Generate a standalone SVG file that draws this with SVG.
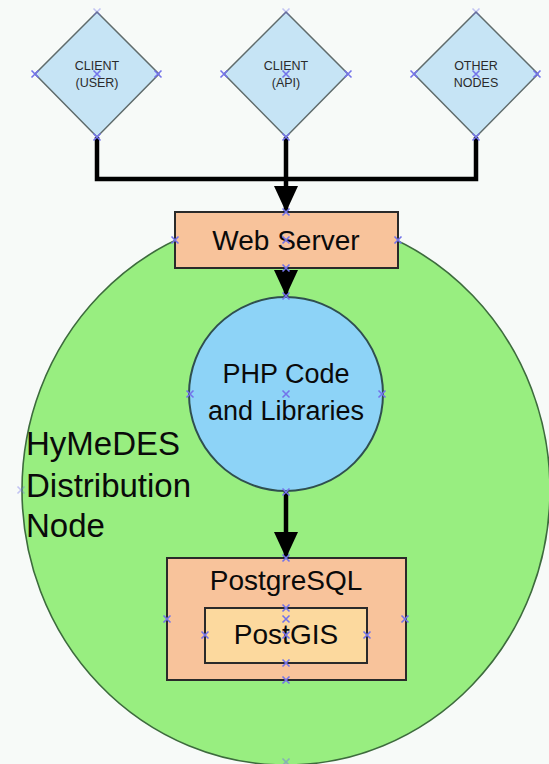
<svg xmlns="http://www.w3.org/2000/svg" xmlns:xlink="http://www.w3.org/1999/xlink" width="549" height="764" viewBox="0 0 549 764">
<style>
.dia{fill:#c6e4f5;stroke:#5f6b6b;stroke-width:1.5}
.dtxt{font-family:"Liberation Sans",Arial,sans-serif;font-size:12.5px;fill:#2a2a2a;text-anchor:middle}
.box{fill:#f8c39b;stroke:#2a2a2a;stroke-width:2}
.txt{font-family:"Liberation Sans",Arial,sans-serif;fill:#0a0a0a;text-anchor:middle}
.conn{fill:none;stroke:#000;stroke-width:4.5}
.pt{stroke:#7373ea;stroke-width:1.6;fill:none}
</style>
<defs>
<marker id="ah" markerUnits="userSpaceOnUse" markerWidth="27" markerHeight="24" refX="26" refY="12" orient="auto">
<path d="M0,0 L26,12 L0,24 z" fill="#000"/>
</marker>
<path id="x" class="pt" d="M-3.5,-3.5 L3.5,3.5 M-3.5,3.5 L3.5,-3.5"/>
</defs>
<rect width="549" height="764" fill="#f7faf8"/>
<g id="distribution-node">
<ellipse cx="286" cy="490" rx="264" ry="275" fill="#98ee80" stroke="#3d6b3d" stroke-width="1.6"/>
<text class="txt" style="text-anchor:start;font-size:33px"><tspan x="26" y="455">HyMeDES</tspan><tspan x="26" y="497">Distribution</tspan><tspan x="26" y="537">Node</tspan></text>
</g>
<g id="client-user">
<polygon class="dia" points="97,12 159,74 97,137 35,74"/>
<text class="dtxt"><tspan x="97" y="70">CLIENT</tspan><tspan x="97" y="87">(USER)</tspan></text>
</g>
<g id="client-api">
<polygon class="dia" points="286,12 348,74 286,137 224,74"/>
<text class="dtxt"><tspan x="286" y="70">CLIENT</tspan><tspan x="286" y="87">(API)</tspan></text>
</g>
<g id="other-nodes">
<polygon class="dia" points="476,12 538,74 476,137 414,74"/>
<text class="dtxt"><tspan x="476" y="70">OTHER</tspan><tspan x="476" y="87">NODES</tspan></text>
</g>
<g id="web-server">
<rect class="box" x="175" y="212" width="223" height="56"/>
<text class="txt" x="286" y="250" style="font-size:28px">Web Server</text>
</g>
<g id="php-code">
<circle cx="286" cy="394" r="97" fill="#8dd3f7" stroke="#2f4f4f" stroke-width="2"/>
<text class="txt" style="font-size:27px"><tspan x="286" y="383">PHP Code</tspan><tspan x="286" y="420">and Libraries</tspan></text>
</g>
<g id="postgresql">
<rect class="box" x="167" y="558" width="239" height="122"/>
<text class="txt" x="286" y="590" style="font-size:28px">PostgreSQL</text>
</g>
<g id="postgis">
<rect x="205" y="608" width="162" height="55" fill="#fcd99e" stroke="#2a2a2a" stroke-width="2"/>
<text class="txt" x="286" y="644" style="font-size:28px">PostGIS</text>
</g>
<g id="connectors">
<path class="conn" d="M97,137 V179 H286"/>
<path class="conn" d="M476,137 V179 H286"/>
<path class="conn" d="M286,137 V212" marker-end="url(#ah)"/>
<path class="conn" d="M286,268 V296" marker-end="url(#ah)"/>
<path class="conn" d="M286,492 V558" marker-end="url(#ah)"/>
</g>
<g id="connection-points">
<use href="#x" x="97" y="12" opacity="0.4"/><use href="#x" x="35" y="74"/><use href="#x" x="158" y="74"/><use href="#x" x="97" y="74"/><use href="#x" x="97" y="137"/>
<use href="#x" x="286" y="12" opacity="0.4"/><use href="#x" x="224" y="74"/><use href="#x" x="348" y="74"/><use href="#x" x="286" y="74"/><use href="#x" x="286" y="137"/>
<use href="#x" x="476" y="12" opacity="0.4"/><use href="#x" x="414" y="74"/><use href="#x" x="537" y="74"/><use href="#x" x="476" y="74"/><use href="#x" x="476" y="137"/>
<use href="#x" x="286" y="212"/><use href="#x" x="175" y="240"/><use href="#x" x="398" y="240"/><use href="#x" x="286" y="240"/><use href="#x" x="286" y="268"/>
<use href="#x" x="286" y="296"/><use href="#x" x="190" y="394"/><use href="#x" x="382" y="394"/><use href="#x" x="286" y="394"/><use href="#x" x="286" y="492"/>
<use href="#x" x="21" y="490" opacity="0.4"/><use href="#x" x="286" y="762" opacity="0.5"/>
<use href="#x" x="286" y="558"/><use href="#x" x="167" y="619"/><use href="#x" x="405" y="619"/><use href="#x" x="286" y="619"/><use href="#x" x="286" y="680"/>
<use href="#x" x="286" y="608"/><use href="#x" x="205" y="635"/><use href="#x" x="367" y="635"/><use href="#x" x="286" y="635"/><use href="#x" x="286" y="663"/>
</g>
</svg>
